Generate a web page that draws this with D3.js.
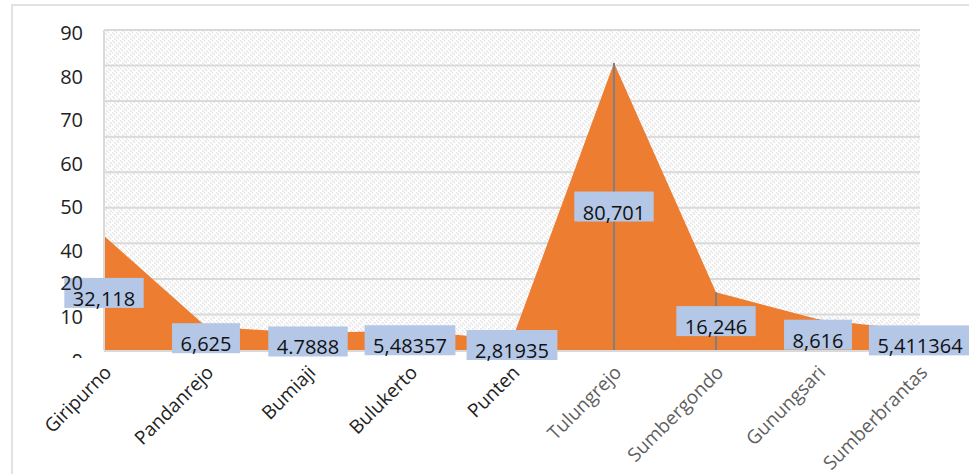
<!DOCTYPE html>
<html>
<head>
<meta charset="utf-8">
<script src="https://cdn.jsdelivr.net/npm/d3@7"></script>
<style>
  body { margin: 0; background: #fff; }
  text { font-family: "Open Sans", "Noto Sans", sans-serif; }
</style>
</head>
<body>
<div id="chart"></div>
<script>
// data
const categories = ["Giripurno", "Pandanrejo", "Bumiaji", "Bulukerto", "Punten",
                    "Tulungrejo", "Sumbergondo", "Gunungsari", "Sumberbrantas"];
const values = [32.118, 6.625, 4.7888, 5.48357, 2.81935, 80.701, 16.246, 8.616, 5.411364];
const valueLabels = ["32,118", "6,625", "4.7888", "5,48357", "2,81935",
                     "80,701", "16,246", "8,616", "5,411364"];
const gridTicks = [10, 20, 30, 40, 50, 60, 70, 80, 90];
const axisLabels = [90, 80, 70, 60, 50, 40, 20, 10, 0];

const width = 969, height = 474;
const orange = "#ED7D31";
const boxColour = "#B4C7E7";
const gridColour = "#d9d9d9";

const svg = d3.select("#chart").append("svg")
    .attr("width", width).attr("height", height);

// hatch for plot background
const defs = svg.append("defs");
const pat = defs.append("pattern")
    .attr("id", "hatch").attr("patternUnits", "userSpaceOnUse")
    .attr("width", 8).attr("height", 8);
pat.append("rect").attr("width", 8).attr("height", 8).attr("fill", "#fff");
pat.append("path")
    .attr("d", "M0,0 L3,3 M4,4 L7,7 M4,0 L5,1 M0,4 L1,5 M6,2 L8,4 M2,6 L4,8")
    .attr("stroke", "#e3e3e3").attr("stroke-width", 1.1);

defs.append("clipPath").attr("id", "yclip")
    .append("rect").attr("x", 0).attr("y", 0).attr("width", 100).attr("height", 358);

// outer chart border
svg.append("rect")
    .attr("x", 12).attr("y", 5).attr("width", width).attr("height", height)
    .attr("fill", "none").attr("stroke", gridColour).attr("stroke-width", 1.5);

const x = d3.scalePoint().domain(categories).range([104, 920]);
const y = d3.scaleLinear().domain([0, 90]).range([350, 30]);
// the tick labels in the picture sit off the gridlines
const yLab = d3.scaleLinear().domain([0, 10, 20, 40, 90]).range([361, 316.5, 282.5, 250.5, 33]);

svg.append("rect")
    .attr("x", x.range()[0]).attr("y", y(90))
    .attr("width", x.range()[1] - x.range()[0]).attr("height", y(0) - y(90))
    .attr("fill", "url(#hatch)");

// gridlines
svg.append("g").selectAll("line")
    .data(gridTicks)
    .enter().append("line")
    .attr("x1", x.range()[0]).attr("x2", x.range()[1])
    .attr("y1", d => y(d)).attr("y2", d => y(d))
    .attr("stroke", gridColour).attr("stroke-width", 2);

// area
const area = d3.area()
    .x((d, i) => x(categories[i]))
    .y0(y(0))
    .y1(d => y(d));
svg.append("path").datum(values)
    .attr("d", area).attr("fill", orange);

// drop lines
svg.append("g").selectAll("line")
    .data(values)
    .enter().append("line")
    .attr("x1", (d, i) => x(categories[i])).attr("x2", (d, i) => x(categories[i]))
    .attr("y1", d => y(d)).attr("y2", y(0))
    .attr("stroke", "#7f7f7f").attr("stroke-width", 2);

// axis lines on top
svg.append("line")
    .attr("x1", x.range()[0]).attr("x2", x.range()[0])
    .attr("y1", y(90)).attr("y2", y(0))
    .attr("stroke", gridColour).attr("stroke-width", 2);
svg.append("line")
    .attr("x1", x.range()[0]).attr("x2", x.range()[1])
    .attr("y1", y(0) + 1).attr("y2", y(0) + 1)
    .attr("stroke", gridColour).attr("stroke-width", 2);

// category labels
svg.append("g").selectAll("text")
    .data(categories)
    .enter().append("text")
    .attr("transform", d => "translate(" + (x(d) + 4) + "," + 369 + ") rotate(-45)")
    .attr("dy", "0.35em")
    .attr("text-anchor", "end")
    .attr("font-size", 19)
    .attr("fill", (d, i) => i < 5 ? "#222" : "#5f5f5f")
    .text(d => d);

// data labels
const lab = svg.append("g").selectAll("g")
    .data(values)
    .enter().append("g")
    .attr("transform", (d, i) => "translate(" + x(categories[i]) + "," + y(d / 2) + ")");
lab.append("text")
    .attr("text-anchor", "middle")
    .attr("y", 13)
    .attr("font-size", 20).attr("fill", "#111")
    .text((d, i) => valueLabels[i]);
lab.insert("rect", "text")
    .each(function() {
        const w = d3.select(this.parentNode).select("text").node().getComputedTextLength() + 17;
        d3.select(this).attr("x", -w / 2).attr("width", w);
    })
    .attr("y", -15).attr("height", 30)
    .attr("fill", boxColour);

// y labels (drawn last, they sit over the first box in the picture)
svg.append("g").attr("clip-path", "url(#yclip)")
    .selectAll("text")
    .data(axisLabels)
    .enter().append("text")
    .attr("x", 83).attr("y", d => yLab(d))
    .attr("dy", "0.35em")
    .attr("text-anchor", "end")
    .attr("font-size", 20).attr("fill", "#222")
    .text(d => d);
</script>
</body>
</html>
